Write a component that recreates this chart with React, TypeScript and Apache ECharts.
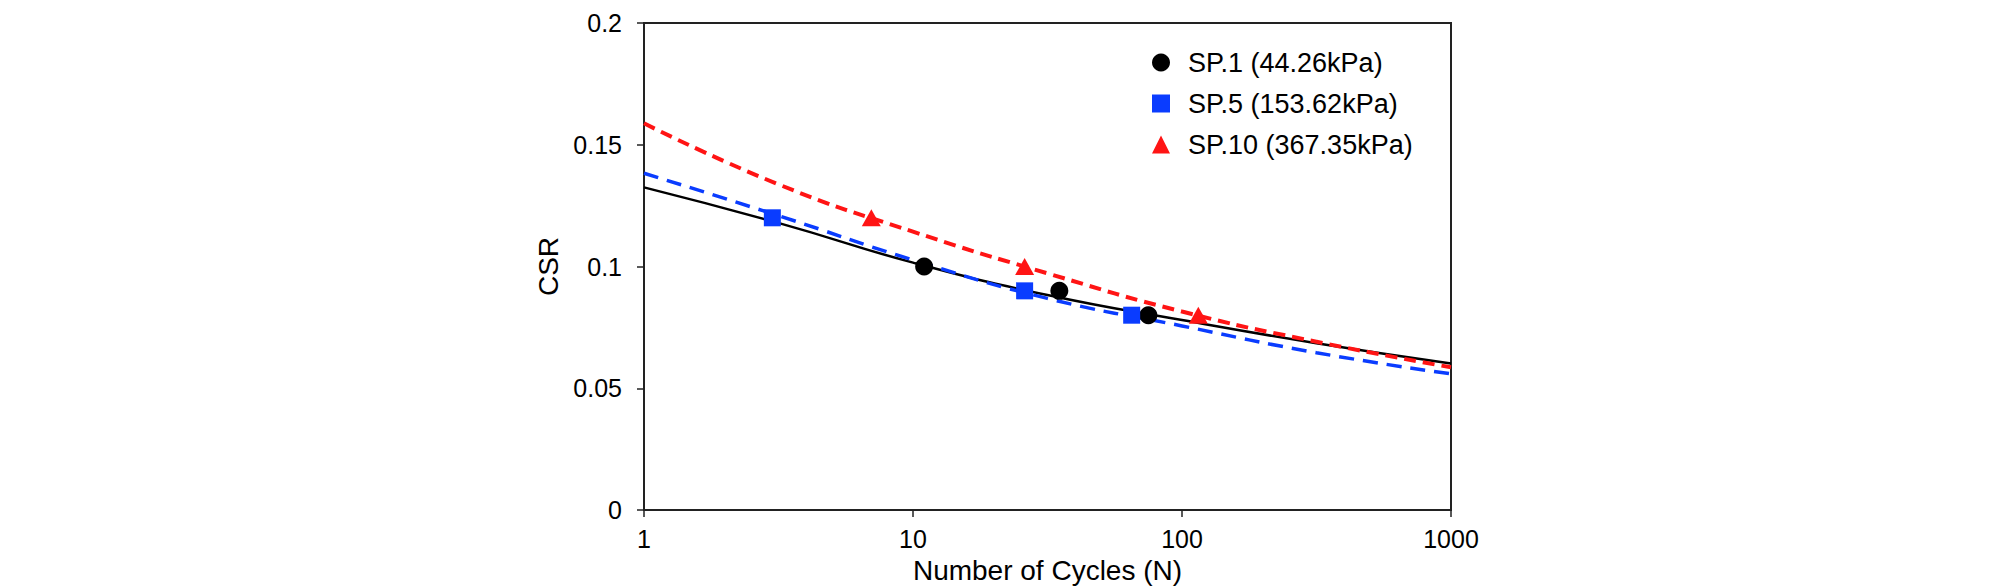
import React, { useEffect, useRef } from "react";
import * as echarts from "echarts";

// Measured points
const cyclesSP1 = [11, 35, 75];
const csrSP1 = [0.1, 0.09, 0.08];
const cyclesSP5 = [3, 26, 65];
const csrSP5 = [0.12, 0.09, 0.08];
const cyclesSP10 = [7, 26, 115];
const csrSP10 = [0.12, 0.1, 0.08];

// Fitted trend lines
const fitCycles = [1, 3.2, 10, 31.6, 100, 316, 1000];
const fitSP1 = [0.1325, 0.1177, 0.1016, 0.0883, 0.078, 0.0685, 0.0602];
const fitSP5 = [0.1383, 0.1207, 0.1027, 0.0869, 0.0756, 0.0646, 0.0559];
const fitSP10 = [0.1588, 0.1335, 0.1143, 0.0972, 0.0815, 0.0691, 0.0586];

const seriesNames = ["SP.1 (44.26kPa)", "SP.5 (153.62kPa)", "SP.10 (367.35kPa)"];
const yTicks = [0, 0.05, 0.1, 0.15, 0.2];

const FONT = "'Liberation Sans', Arial, sans-serif";
const BLACK = "#000000";
const BLUE = "#0A3CFF";
const RED = "#FF1414";

const pairs = (xs: number[], ys: number[]) => xs.map((x, i) => [x, ys[i]]);

export default function App() {
  const ref = useRef<HTMLDivElement>(null);
  useEffect(() => {
    if (!ref.current) return;
    const chart = echarts.init(ref.current, null, { renderer: "svg" });
    chart.setOption({
      animation: false,
      backgroundColor: "#ffffff",
      grid: {
        left: 644,
        top: 23,
        width: 807,
        height: 487,
        show: true,
        borderColor: "#222",
        borderWidth: 2,
        backgroundColor: "transparent",
        outerBoundsMode: "none",
      },
      legend: {
        orient: "vertical",
        left: 1152,
        top: 49,
        padding: 0,
        itemWidth: 18,
        itemHeight: 18,
        itemGap: 14,
        textStyle: { fontSize: 27, color: "#000", fontFamily: FONT, padding: [0, 0, 0, 13] },
        data: [
          { name: seriesNames[0], icon: "circle" },
          { name: seriesNames[1], icon: "rect" },
          { name: seriesNames[2], icon: "triangle" },
        ],
      },
      xAxis: {
        type: "log",
        logBase: 10,
        min: 1,
        max: 1000,
        name: "Number of Cycles (N)",
        nameLocation: "middle",
        nameGap: 46,
        nameTextStyle: { fontSize: 28, color: "#000", fontFamily: FONT },
        axisLine: { show: true, lineStyle: { color: "#222", width: 2 } },
        axisTick: { show: true, inside: false, length: 7, lineStyle: { color: "#222", width: 1.5 } },
        minorTick: { show: false },
        axisLabel: {
          fontSize: 25,
          color: "#000",
          fontFamily: FONT,
          margin: 16,
          formatter: (v: number) => String(Math.round(v)),
        },
        splitLine: { show: false },
      },
      yAxis: {
        type: "value",
        min: yTicks[0],
        max: yTicks[yTicks.length - 1],
        interval: 0.05,
        name: "CSR",
        nameLocation: "middle",
        nameRotate: 90,
        nameGap: 82,
        nameTextStyle: { fontSize: 28, color: "#000", fontFamily: FONT },
        axisLine: { show: true, lineStyle: { color: "#222", width: 2 } },
        axisTick: { show: true, inside: false, length: 7, lineStyle: { color: "#222", width: 1.5 } },
        axisLabel: {
          fontSize: 25,
          color: "#000",
          fontFamily: FONT,
          margin: 22,
          formatter: (v: number) => String(parseFloat(v.toFixed(2))),
        },
        splitLine: { show: false },
      },
      series: [
        {
          name: "fit1",
          type: "line",
          data: pairs(fitCycles, fitSP1),
          smooth: true,
          showSymbol: false,
          lineStyle: { color: BLACK, width: 2.5, type: "solid" },
          z: 2,
        },
        {
          name: "fit5",
          type: "line",
          data: pairs(fitCycles, fitSP5),
          smooth: true,
          showSymbol: false,
          lineStyle: { color: BLUE, width: 3.5, type: [15, 9] },
          z: 2,
        },
        {
          name: "fit10",
          type: "line",
          data: pairs(fitCycles, fitSP10),
          smooth: true,
          showSymbol: false,
          lineStyle: { color: RED, width: 4, type: [12, 7] },
          z: 2,
        },
        {
          name: seriesNames[0],
          type: "scatter",
          symbol: "circle",
          symbolSize: 18,
          itemStyle: { color: BLACK, opacity: 1 },
          data: pairs(cyclesSP1, csrSP1),
          z: 3,
        },
        {
          name: seriesNames[1],
          type: "scatter",
          symbol: "rect",
          symbolSize: 17,
          itemStyle: { color: BLUE, opacity: 1 },
          data: pairs(cyclesSP5, csrSP5),
          z: 3,
        },
        {
          name: seriesNames[2],
          type: "scatter",
          symbol: "triangle",
          symbolSize: [19, 17],
          itemStyle: { color: RED, opacity: 1 },
          data: pairs(cyclesSP10, csrSP10),
          z: 3,
        },
      ],
    });
    return () => chart.dispose();
  }, []);
  return (
    <div
      ref={ref}
      style={{ position: "fixed", left: 0, top: 0, width: 2008, height: 588, background: "#fff" }}
    />
  );
}
